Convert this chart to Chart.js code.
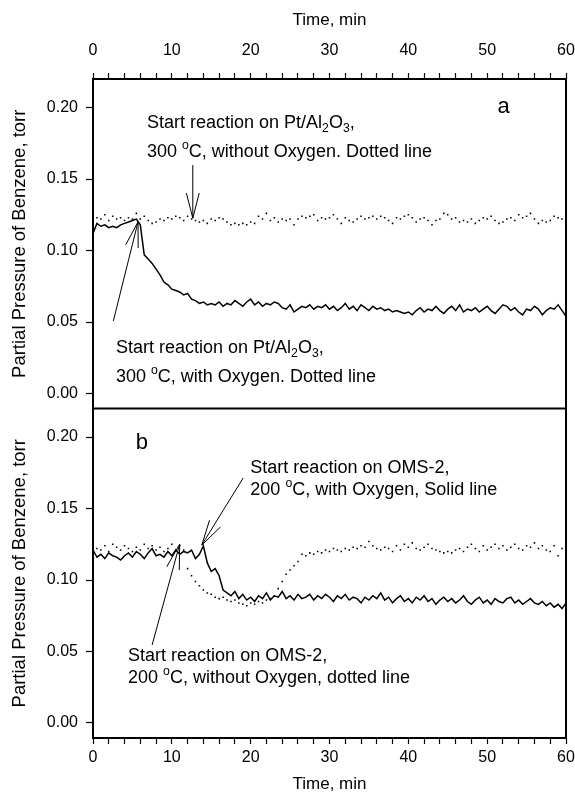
<!DOCTYPE html>
<html>
<head>
<meta charset="utf-8">
<script src="https://cdn.jsdelivr.net/npm/chart.js@4.4.1/dist/chart.umd.min.js"></script>
<style>
  html, body { margin: 0; padding: 0; background: #fff; }
  #wrap { position: relative; width: 575px; height: 804px; }
</style>
</head>
<body>
<div id="wrap"><canvas id="chart" width="575" height="804"></canvas></div>
<script>
// Sample times, min (same for every series)
const times = [
  0, 0.5, 1, 1.5, 2, 2.5, 3, 3.5, 4, 4.5, 5, 5.5, 6, 6.5, 7, 7.5, 8, 8.5, 9, 9.5,
  10, 10.5, 11, 11.5, 12, 12.5, 13, 13.5, 14, 14.5, 15, 15.5, 16, 16.5, 17, 17.5, 18, 18.5, 19, 19.5,
  20, 20.5, 21, 21.5, 22, 22.5, 23, 23.5, 24, 24.5, 25, 25.5, 26, 26.5, 27, 27.5, 28, 28.5, 29, 29.5,
  30, 30.5, 31, 31.5, 32, 32.5, 33, 33.5, 34, 34.5, 35, 35.5, 36, 36.5, 37, 37.5, 38, 38.5, 39, 39.5,
  40, 40.5, 41, 41.5, 42, 42.5, 43, 43.5, 44, 44.5, 45, 45.5, 46, 46.5, 47, 47.5, 48, 48.5, 49, 49.5,
  50, 50.5, 51, 51.5, 52, 52.5, 53, 53.5, 54, 54.5, 55, 55.5, 56, 56.5, 57, 57.5, 58, 58.5, 59, 59.5,
  60
];

// Panel a: Pt/Al2O3, 300 C
const ptWithO2 = [
  0.112, 0.119, 0.117, 0.118, 0.116, 0.117, 0.116, 0.118, 0.119, 0.120, 0.121, 0.122, 0.118, 0.097, 0.094, 0.091, 0.087, 0.083, 0.078, 0.076,
  0.073, 0.072, 0.071, 0.069, 0.070, 0.066, 0.065, 0.063, 0.064, 0.062, 0.063, 0.062, 0.064, 0.061, 0.063, 0.062, 0.065, 0.063, 0.061, 0.064,
  0.066, 0.062, 0.064, 0.061, 0.063, 0.062, 0.064, 0.063, 0.060, 0.059, 0.062, 0.057, 0.059, 0.061, 0.060, 0.062, 0.059, 0.061, 0.060, 0.062,
  0.059, 0.061, 0.058, 0.060, 0.063, 0.059, 0.061, 0.058, 0.062, 0.060, 0.058, 0.061, 0.059, 0.060, 0.058, 0.059, 0.057, 0.058, 0.057, 0.056,
  0.057, 0.055, 0.058, 0.060, 0.057, 0.059, 0.058, 0.061, 0.058, 0.056, 0.059, 0.061, 0.058, 0.062, 0.057, 0.059, 0.058, 0.060, 0.057, 0.059,
  0.061, 0.058, 0.056, 0.059, 0.062, 0.061, 0.058, 0.060, 0.057, 0.055, 0.059, 0.058, 0.061, 0.059, 0.055, 0.058, 0.060, 0.059, 0.062, 0.058,
  0.054
];
const ptNoO2 = [
  0.121, 0.123, 0.122, 0.125, 0.121, 0.124, 0.122, 0.123, 0.121, 0.123, 0.122, 0.126, 0.122, 0.124, 0.121, 0.119, 0.120, 0.122, 0.121, 0.123,
  0.122, 0.124, 0.123, 0.121, 0.124, 0.122, 0.121, 0.120, 0.121, 0.119, 0.122, 0.121, 0.123, 0.122, 0.120, 0.118, 0.119, 0.118, 0.119, 0.118,
  0.120, 0.119, 0.124, 0.122, 0.126, 0.121, 0.123, 0.120, 0.122, 0.121, 0.122, 0.118, 0.122, 0.124, 0.123, 0.124, 0.125, 0.121, 0.123, 0.122,
  0.123, 0.125, 0.122, 0.119, 0.123, 0.121, 0.120, 0.122, 0.124, 0.122, 0.123, 0.124, 0.122, 0.124, 0.123, 0.121, 0.119, 0.123, 0.122, 0.124,
  0.125, 0.123, 0.120, 0.122, 0.123, 0.121, 0.118, 0.121, 0.122, 0.126, 0.125, 0.122, 0.123, 0.120, 0.121, 0.120, 0.122, 0.119, 0.121, 0.123,
  0.122, 0.124, 0.121, 0.119, 0.120, 0.122, 0.123, 0.121, 0.125, 0.123, 0.124, 0.126, 0.122, 0.119, 0.121, 0.120, 0.121, 0.124, 0.123, 0.122,
  0.121
];

// Panel b: OMS-2, 200 C
const omsWithO2 = [
  0.121, 0.116, 0.118, 0.115, 0.119, 0.117, 0.116, 0.114, 0.117, 0.119, 0.116, 0.120, 0.118, 0.115, 0.119, 0.122, 0.117, 0.118, 0.116, 0.120,
  0.117, 0.121, 0.118, 0.120, 0.119, 0.121, 0.115, 0.118, 0.124, 0.112, 0.106, 0.108, 0.103, 0.093, 0.091, 0.089, 0.092, 0.087, 0.090, 0.086,
  0.088, 0.085, 0.089, 0.087, 0.091, 0.086, 0.089, 0.088, 0.092, 0.087, 0.089, 0.086, 0.090, 0.087, 0.088, 0.090, 0.086, 0.089, 0.087, 0.090,
  0.088, 0.085, 0.089, 0.087, 0.090, 0.086, 0.088, 0.087, 0.084, 0.088, 0.086, 0.089, 0.087, 0.091, 0.086, 0.088, 0.084, 0.087, 0.089, 0.085,
  0.087, 0.084, 0.088, 0.086, 0.089, 0.085, 0.087, 0.083, 0.086, 0.088, 0.085, 0.087, 0.084, 0.086, 0.089, 0.085, 0.083, 0.086, 0.088, 0.084,
  0.086, 0.083, 0.087, 0.085, 0.084, 0.087, 0.088, 0.084, 0.086, 0.083, 0.085, 0.087, 0.084, 0.083, 0.085, 0.082, 0.084, 0.081, 0.083, 0.080,
  0.084
];
const omsNoO2 = [
  0.125, 0.122, 0.121, 0.124, 0.120, 0.125, 0.123, 0.121, 0.124, 0.122, 0.120, 0.123, 0.121, 0.125, 0.122, 0.124, 0.121, 0.123, 0.120, 0.122,
  0.125, 0.121, 0.124, 0.121, 0.108, 0.103, 0.099, 0.096, 0.093, 0.091, 0.090, 0.088, 0.087, 0.088, 0.086, 0.085, 0.086, 0.084, 0.083, 0.082,
  0.084, 0.083, 0.085, 0.084, 0.086, 0.087, 0.089, 0.094, 0.099, 0.104, 0.107, 0.110, 0.113, 0.118, 0.117, 0.119, 0.118, 0.120, 0.119, 0.121,
  0.120, 0.122, 0.121, 0.120, 0.122, 0.121, 0.123, 0.122, 0.124, 0.123, 0.127, 0.124, 0.122, 0.121, 0.123, 0.122, 0.120, 0.124, 0.121, 0.125,
  0.123, 0.126, 0.122, 0.121, 0.123, 0.125, 0.122, 0.121, 0.120, 0.119, 0.120, 0.119, 0.121, 0.122, 0.120, 0.123, 0.125, 0.122, 0.120, 0.124,
  0.121, 0.123, 0.125, 0.122, 0.124, 0.121, 0.123, 0.125, 0.122, 0.121, 0.124, 0.123, 0.126, 0.122, 0.124, 0.121, 0.120, 0.124, 0.117, 0.122,
  0.121
];

const xTicksMajor = [0, 10, 20, 30, 40, 50, 60];
const yLabel = 'Partial Pressure of Benzene, torr';
const xLabel = 'Time, min';

// Annotations in data coordinates (t, pressure) of their own panel
const notes = [
  { axis: 'yA', t: 6.85, v: 0.1892, parts: [['Start reaction on Pt/Al'], ['2', 'sub'], ['O'], ['3', 'sub'], [',']] },
  { axis: 'yA', t: 6.85, v: 0.1689, parts: [['300 '], ['o', 'sup'], ['C, without Oxygen. Dotted line']] },
  { axis: 'yA', t: 2.92, v: 0.0318, parts: [['Start reaction on Pt/Al'], ['2', 'sub'], ['O'], ['3', 'sub'], [',']] },
  { axis: 'yA', t: 2.92, v: 0.0115, parts: [['300 '], ['o', 'sup'], ['C, with Oxygen. Dotted line']] },
  { axis: 'yB', t: 19.96, v: 0.1784, parts: [['Start reaction on OMS-2,']] },
  { axis: 'yB', t: 19.96, v: 0.1630, parts: [['200 '], ['o', 'sup'], ['C, with Oxygen, Solid line']] },
  { axis: 'yB', t: 4.45, v: 0.0470, parts: [['Start reaction on OMS-2,']] },
  { axis: 'yB', t: 4.45, v: 0.0315, parts: [['200 '], ['o', 'sup'], ['C, without Oxygen, dotted line']] }
];
const panelTags = [
  { axis: 'yA', t: 52.1, v: 0.2004, text: 'a' },
  { axis: 'yB', t: 6.2, v: 0.1957, text: 'b' }
];
// Arrows: tail -> tip
const arrows = [
  { axis: 'yA', t0: 12.66, v0: 0.1598, t1: 12.66, v1: 0.1226 },
  { axis: 'yA', t0: 2.58, v0: 0.0507, t1: 5.71, v1: 0.1200 },
  { axis: 'yB', t0: 19.05, v0: 0.1714, t1: 13.8, v1: 0.1245 },
  { axis: 'yB', t0: 7.5, v0: 0.0546, t1: 11.0, v1: 0.1252 }
];

const FONT = '"Liberation Sans", Arial, Helvetica, sans-serif';

function pts(values) {
  return values.map((v, i) => ({ x: times[i], y: v }));
}

function drawRich(ctx, x, y, parts, size) {
  let cx = x;
  parts.forEach(p => {
    const txt = p[0];
    const mode = p[1];
    const fs = mode ? size * 0.68 : size;
    ctx.font = fs + 'px ' + FONT;
    let dy = 0;
    if (mode === 'sub') dy = size * 0.3;
    if (mode === 'sup') dy = -size * 0.38;
    ctx.fillText(txt, cx, y + dy);
    cx += ctx.measureText(txt).width;
  });
}

function drawArrow(ctx, x0, y0, x1, y1) {
    const ang = Math.atan2(y0 - y1, x0 - x1);
    const len = 26;
    const spread = 0.25;
    ctx.beginPath();
    ctx.moveTo(x0, y0);
    ctx.lineTo(x1, y1);
    ctx.moveTo(x1 + len * Math.cos(ang - spread), y1 + len * Math.sin(ang - spread));
    ctx.lineTo(x1, y1);
    ctx.lineTo(x1 + len * Math.cos(ang + spread), y1 + len * Math.sin(ang + spread));
    ctx.stroke();
}

const framePlugin = {
    id: 'frame',
    afterDatasetsDraw(chart) {
        const { ctx, chartArea: a, scales } = chart;
        const xs = scales.x;
        ctx.save();
        ctx.strokeStyle = '#000';
        ctx.lineWidth = 2;
        ctx.strokeRect(a.left, a.top, a.right - a.left, a.bottom - a.top);
        const mid = Math.max(scales.yA.top, scales.yB.top);
        ctx.beginPath();
        ctx.moveTo(a.left, mid);
        ctx.lineTo(a.right, mid);
        ctx.stroke();

        // annotation texts
        ctx.fillStyle = '#000';
        ctx.textBaseline = 'middle';
        ctx.textAlign = 'left';
        notes.forEach(n => {
            drawRich(ctx, xs.getPixelForValue(n.t), scales[n.axis].getPixelForValue(n.v), n.parts, 18);
        });
        ctx.textAlign = 'center';
        ctx.font = '22px ' + FONT;
        panelTags.forEach(p => {
            ctx.fillText(p.text, xs.getPixelForValue(p.t), scales[p.axis].getPixelForValue(p.v));
        });

        // arrows
        ctx.lineWidth = 1;
        arrows.forEach(r => {
            const ys = scales[r.axis];
            drawArrow(ctx, xs.getPixelForValue(r.t0), ys.getPixelForValue(r.v0),
                xs.getPixelForValue(r.t1), ys.getPixelForValue(r.v1));
        });
        ctx.restore();
    }
};

const tickFont = { family: FONT, size: 16 };
const titleFont = { family: FONT, size: 17 };

function xAxis(position, height, labelPad, titlePad) {
    return {
        type: 'linear',
        position: position,
        min: 0,
        max: 60,
        afterFit: s => { s.height = height; s.paddingLeft = 0; s.paddingRight = 0; },
        afterBuildTicks: s => { s.ticks = s.ticks.filter(t => t.value % 2 === 0); },
        border: { display: false },
        grid: { drawOnChartArea: false, drawTicks: true, tickLength: 6, tickColor: '#000', tickWidth: 1.2 },
        ticks: {
            stepSize: 2,
            autoSkip: false,
            maxRotation: 0,
            padding: labelPad,
            color: '#000',
            font: tickFont,
            callback: v => (xTicksMajor.includes(v) ? String(v) : '')
        },
        title: { display: true, text: xLabel, color: '#000', font: titleFont, padding: titlePad }
    };
}

function yAxis() {
    return {
        type: 'linear',
        position: 'left',
        stack: 'panels',
        stackWeight: 1,
        min: -0.0105,
        max: 0.22,
        afterFit: s => { s.width = 93; s.paddingTop = 0; s.paddingBottom = 0; },
        border: { display: false },
        grid: { drawOnChartArea: false, drawTicks: true, tickLength: 7, tickColor: '#000', tickWidth: 1.2 },
        ticks: {
            stepSize: 0.05,
            includeBounds: false,
            padding: 8,
            color: '#000',
            font: tickFont,
            callback: v => v.toFixed(2)
        },
        title: { display: true, text: yLabel, color: '#000', font: { family: FONT, size: 18.5 }, padding: { top: 9, bottom: 0 } }
    };
}

const solidStyle = { showLine: true, borderColor: '#000', borderWidth: 1.5, pointRadius: 0, tension: 0, fill: false };
const dotStyle = { showLine: false, pointStyle: 'rect', pointRadius: 1.1, pointBackgroundColor: '#000', pointBorderWidth: 0, borderColor: '#000' };

new Chart(document.getElementById('chart').getContext('2d'), {
    type: 'scatter',
    data: {
        datasets: [
            Object.assign({ label: 'Pt/Al2O3 with O2', data: pts(ptWithO2), yAxisID: 'yA' }, solidStyle),
            Object.assign({ label: 'Pt/Al2O3 without O2', data: pts(ptNoO2), yAxisID: 'yA' }, dotStyle),
            Object.assign({ label: 'OMS-2 with O2', data: pts(omsWithO2), yAxisID: 'yB' }, solidStyle),
            Object.assign({ label: 'OMS-2 without O2', data: pts(omsNoO2), yAxisID: 'yB' }, dotStyle)
        ]
    },
    options: {
        responsive: false,
        animation: false,
        layout: { padding: { left: 0, right: 9, top: 0, bottom: 0 } },
        plugins: { legend: { display: false }, tooltip: { enabled: false } },
        scales: {
            x: xAxis('bottom', 66, 4, { top: 0, bottom: 9 }),
            x2: xAxis('top', 79, 13, { top: 10, bottom: 0 }),
            yB: yAxis(),
            yA: yAxis()
        }
    },
    plugins: [framePlugin]
});
</script>
</body>
</html>
